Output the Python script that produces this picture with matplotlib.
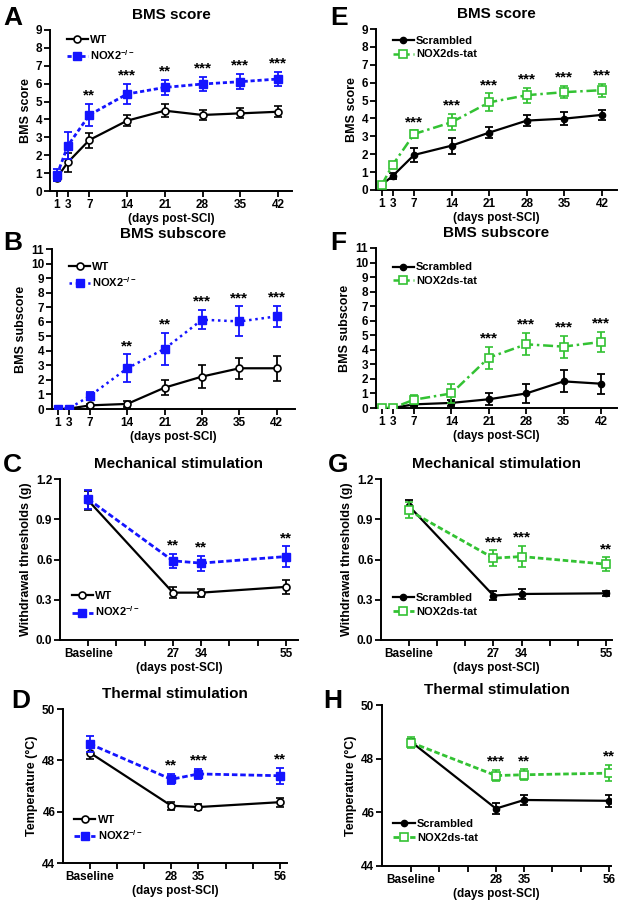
import matplotlib
matplotlib.use("Agg")
import matplotlib.pyplot as plt
from matplotlib.lines import Line2D

plt.rcParams["font.family"] = ["Liberation Sans", "DejaVu Sans"]
plt.rcParams["font.weight"] = "bold"
plt.rcParams["axes.labelweight"] = "bold"
plt.rcParams["axes.titleweight"] = "bold"
plt.rcParams["mathtext.fontset"] = "custom"
plt.rcParams["mathtext.rm"] = "Liberation Sans:bold"
plt.rcParams["mathtext.bf"] = "Liberation Sans:bold"
plt.rcParams["mathtext.default"] = "rm"

BLUE = "#1414ff"
GREEN = "#33c233"

# ---- BMS days ----
days_bms = [1, 3, 7, 14, 21, 28, 35, 42]
days_ticks = [1, 3, 7, 14, 21, 28, 35, 42]

# A: BMS score, WT vs NOX2-/-
a_wt = [0.75, 1.6, 2.85, 3.93, 4.49, 4.25, 4.34, 4.43]
a_wt_err = [0.2, 0.55, 0.42, 0.3, 0.35, 0.28, 0.28, 0.3]
a_nox = [0.9, 2.53, 4.25, 5.42, 5.79, 5.98, 6.11, 6.26]
a_nox_err = [0.35, 0.75, 0.6, 0.55, 0.42, 0.38, 0.42, 0.4]
a_stars = ["", "", "**", "***", "**", "***", "***", "***"]

# B: BMS subscore, WT vs NOX2-/-
b_wt = [0.0, 0.02, 0.25, 0.35, 1.47, 2.23, 2.8, 2.8]
b_wt_err = [0.0, 0.03, 0.1, 0.2, 0.5, 0.82, 0.72, 0.85]
b_nox = [0.0, 0.02, 0.9, 2.8, 4.14, 6.14, 6.02, 6.37]
b_nox_err = [0.0, 0.03, 0.3, 0.95, 1.1, 0.65, 1.03, 0.72]
b_stars = ["", "", "", "**", "**", "***", "***", "***"]

# E: BMS score, Scrambled vs NOX2ds-tat
e_scr = [0.3, 0.78, 1.96, 2.48, 3.21, 3.88, 3.99, 4.2]
e_scr_err = [0.08, 0.15, 0.4, 0.45, 0.32, 0.32, 0.35, 0.3]
e_tat = [0.3, 1.4, 3.13, 3.79, 4.9, 5.3, 5.47, 5.58]
e_tat_err = [0.08, 0.1, 0.2, 0.45, 0.5, 0.42, 0.33, 0.37]
e_stars = ["", "", "***", "***", "***", "***", "***", "***"]

# F: BMS subscore, Scrambled vs NOX2ds-tat
f_scr = [0.0, 0.0, 0.25, 0.35, 0.6, 1.0, 1.83, 1.67]
f_scr_err = [0.0, 0.02, 0.1, 0.2, 0.4, 0.65, 0.75, 0.7]
f_tat = [0.0, 0.0, 0.57, 1.0, 3.46, 4.38, 4.22, 4.54]
f_tat_err = [0.0, 0.02, 0.3, 0.68, 0.75, 0.77, 0.75, 0.68]
f_stars = ["", "", "", "", "***", "***", "***", "***"]

# C/G: mechanical stimulation (Baseline, 27, 34, 55)
mech_x = [6, 27, 34, 55]
mech_ticks = [6, 13, 20, 27, 34, 41, 48, 55]
mech_labels = ["Baseline", "", "", "27", "34", "", "", "55"]
c_wt = [1.04, 0.353, 0.353, 0.396]
c_wt_err = [0.07, 0.04, 0.03, 0.05]
c_nox = [1.05, 0.59, 0.573, 0.622]
c_nox_err = [0.07, 0.05, 0.055, 0.075]
c_stars = ["", "**", "**", "**"]

g_scr = [1.0, 0.331, 0.343, 0.348]
g_scr_err = [0.04, 0.035, 0.04, 0.02]
g_tat = [0.966, 0.61, 0.622, 0.565]
g_tat_err = [0.06, 0.058, 0.08, 0.05]
g_stars = ["", "***", "***", "**"]

# D/H: thermal stimulation (Baseline, 28, 35, 56)
therm_x = [7, 28, 35, 56]
therm_ticks = [7, 14, 21, 28, 35, 42, 49, 56]
therm_labels = ["Baseline", "", "", "28", "35", "", "", "56"]
d_wt = [48.3, 46.23, 46.18, 46.37]
d_wt_err = [0.25, 0.15, 0.13, 0.18]
d_nox = [48.64, 47.26, 47.47, 47.4]
d_nox_err = [0.3, 0.2, 0.18, 0.32]
d_stars = ["", "**", "***", "**"]

h_scr = [48.63, 46.14, 46.46, 46.43]
h_scr_err = [0.1, 0.2, 0.18, 0.22]
h_tat = [48.6, 47.37, 47.4, 47.46]
h_tat_err = [0.2, 0.2, 0.2, 0.3]
h_stars = ["", "***", "**", "**"]

NOX_LABEL = r"NOX2$^{-/-}$"


def px_axes(l, t, r, b):
    return [l / 628, 1 - b / 900, (r - l) / 628, (b - t) / 900]


fig = plt.figure(figsize=(6.28, 9), dpi=100)


def panel(rect, letter, letter_xy, title, x, ctrl, ctrl_err, trt, trt_err, stars,
          ctrl_style, trt_style, labels, xticks, xticklabels, xlim, ylim, yticks,
          ylabel, yfmt, leg_pos):
    ax = fig.add_axes(px_axes(*rect))
    ax.errorbar(x, ctrl, yerr=ctrl_err, capsize=3, elinewidth=1.3, capthick=1.3,
                zorder=3, **ctrl_style)
    ax.errorbar(x, trt, yerr=trt_err, capsize=3, elinewidth=1.3, capthick=1.3,
                zorder=4, **trt_style)
    for xi, yi, ei, s in zip(x, trt, trt_err, stars):
        if s:
            ax.annotate(s, (xi, yi + ei), xytext=(0, 1), textcoords="offset points",
                        ha="center", va="bottom", fontsize=11, fontweight="bold")
    ax.set_xlim(*xlim)
    ax.set_ylim(*ylim)
    ax.set_xticks(xticks)
    ax.set_xticklabels(xticklabels)
    ax.set_yticks(yticks)
    ax.set_yticklabels([yfmt.format(v) for v in yticks])
    for sp in ["top", "right"]:
        ax.spines[sp].set_visible(False)
    for sp in ["left", "bottom"]:
        ax.spines[sp].set_linewidth(1.4)
    ax.tick_params(direction="out", length=4, width=1.3, labelsize=8.5, pad=1.5)
    ax.set_title(title, fontsize=11, fontweight="bold", pad=8)
    ax.set_xlabel("(days post-SCI)", fontsize=8.5, labelpad=1.5)
    ax.set_ylabel(ylabel, fontsize=9, labelpad=3)
    handles = [Line2D([], [], **ctrl_style), Line2D([], [], **trt_style)]
    ax.legend(handles, labels, loc="center left", bbox_to_anchor=leg_pos, frameon=False,
              fontsize=8, handlelength=1.9, handletextpad=0.2, labelspacing=0.35,
              borderpad=0, borderaxespad=0, numpoints=1)
    fig.text(letter_xy[0] / 628, 1 - letter_xy[1] / 900, letter, fontsize=19,
             fontweight="bold", va="top", ha="left")
    return ax


wt_style = dict(color="black", marker="o", ms=5, mfc="white", mec="black", mew=1.2,
                lw=1.6, ls="-")
nox_style = dict(color=BLUE, marker="s", ms=5.5, mfc=BLUE, mec=BLUE, lw=2, ls=(0, (1.5, 1)))
nox_style_b = dict(color=BLUE, marker="s", ms=5.5, mfc=BLUE, mec=BLUE, lw=1.8, ls=(0, (1, 1.5)))
nox_style_c = dict(color=BLUE, marker="s", ms=6, mfc=BLUE, mec=BLUE, lw=2, ls=(0, (2, 1)))
scr_style = dict(color="black", marker="o", ms=4.5, mfc="black", mec="black", lw=1.6, ls="-")
tat_style = dict(color=GREEN, marker="s", ms=5.5, mfc="white", mec=GREEN, mew=1.2, lw=1.8,
                 ls=(0, (4, 1.5, 1, 1.5)))
tat_style_g = dict(color=GREEN, marker="s", ms=6, mfc="white", mec=GREEN, mew=1.2, lw=2,
                   ls=(0, (2, 1)))

wt_labels = ["WT", NOX_LABEL]
scr_labels = ["Scrambled", "NOX2ds-tat"]

# left column
panel((50, 30, 292, 191), "A", (3, 6), "BMS score", days_bms, a_wt, a_wt_err, a_nox, a_nox_err,
      a_stars, wt_style, nox_style, wt_labels, days_ticks, days_ticks, (-0.3, 44.6), (0, 9),
      range(0, 10), "BMS score", "{:d}", (0.07, 0.885))
panel((52, 249, 295, 409), "B", (3, 231), "BMS subscore", days_bms, b_wt, b_wt_err, b_nox, b_nox_err,
      b_stars, wt_style, nox_style_b, wt_labels, days_ticks, days_ticks, (-0.1, 45.4), (0, 11),
      range(0, 12), "BMS subscore", "{:d}", (0.07, 0.835))
panel((60, 479, 298, 640), "C", (3, 453), "Mechanical stimulation", mech_x, c_wt, c_wt_err, c_nox,
      c_nox_err, c_stars, wt_style, nox_style_c, wt_labels, mech_ticks, mech_labels, (-1, 58),
      (0, 1.2), [0, 0.3, 0.6, 0.9, 1.2], "Withdrawal thresholds (g)", "{:.1f}", (0.05, 0.22))
panel((63, 709, 287, 863), "D", (11, 689), "Thermal stimulation", therm_x, d_wt, d_wt_err, d_nox,
      d_nox_err, d_stars, wt_style, nox_style_c, wt_labels, therm_ticks, therm_labels, (0.1, 57.8),
      (44, 50), [44, 46, 48, 50], "Temperature (°C)", "{:d}", (0.05, 0.225))

# right column
panel((376, 29, 617, 190), "E", (330, 6), "BMS score", days_bms, e_scr, e_scr_err, e_tat, e_tat_err,
      e_stars, scr_style, tat_style, scr_labels, days_ticks, days_ticks, (-0.1, 44.8), (0, 9),
      range(0, 10), "BMS score", "{:d}", (0.07, 0.885))
panel((376, 248, 617, 408), "F", (330, 231), "BMS subscore", days_bms, f_scr, f_scr_err, f_tat,
      f_tat_err, f_stars, scr_style, tat_style, scr_labels, days_ticks, days_ticks, (-0.1, 45),
      (0, 11), range(0, 12), "BMS subscore", "{:d}", (0.07, 0.835))
panel((381, 479, 612, 640), "G", (328, 453), "Mechanical stimulation", mech_x, g_scr, g_scr_err,
      g_tat, g_tat_err, g_stars, scr_style, tat_style_g, scr_labels, mech_ticks, mech_labels,
      (-0.9, 56.4), (0, 1.2), [0, 0.3, 0.6, 0.9, 1.2], "Withdrawal thresholds (g)", "{:.1f}",
      (0.05, 0.22))
panel((382, 705, 611, 866), "H", (323, 689), "Thermal stimulation", therm_x, h_scr, h_scr_err,
      h_tat, h_tat_err, h_stars, scr_style, tat_style_g, scr_labels, therm_ticks, therm_labels,
      (-0.2, 56.5), (44, 50), [44, 46, 48, 50], "Temperature (°C)", "{:d}", (0.05, 0.22))

fig.savefig("out.png", dpi=100)
